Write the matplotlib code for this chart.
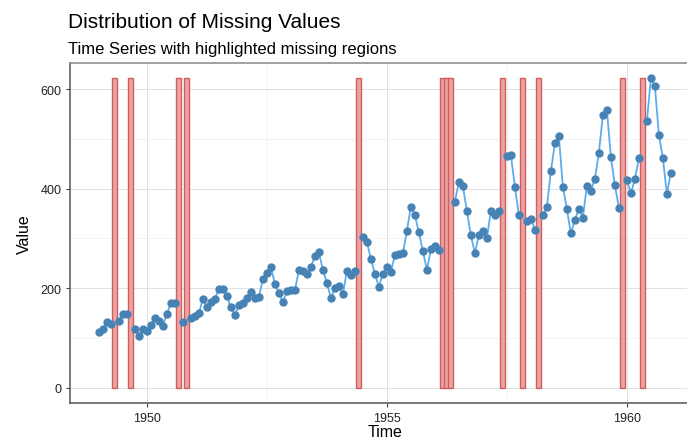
import numpy as np
import matplotlib
matplotlib.use('Agg')
from matplotlib import pyplot as plt
from matplotlib.ticker import MultipleLocator

plt.rcParams['font.family'] = ['Liberation Sans', 'DejaVu Sans']

# monthly air passengers 1949-1960, None = missing
values = [
    112, 118, 132, 129, None, 135, 148, 148, None, 119, 104, 118,
    115, 126, 141, 135, 125, 149, 170, 170, None, 133, None, 140,
    145, 150, 178, 163, 172, 178, 199, 199, 184, 162, 146, 166,
    171, 180, 193, 181, 183, 218, 230, 242, 209, 191, 172, 194,
    196, 196, 236, 235, 229, 243, 264, 272, 237, 211, 180, 201,
    204, 188, 235, 227, 234, None, 302, 293, 259, 229, 203, 229,
    242, 233, 267, 269, 270, 315, 364, 347, 312, 274, 237, 278,
    284, 277, None, None, None, 374, 413, 405, 355, 306, 271, 306,
    315, 301, 356, 348, 355, None, 465, 467, 404, 347, None, 336,
    340, 318, None, 348, 363, 435, 491, 505, 404, 359, 310, 337,
    360, 342, 406, 396, 420, 472, 548, 559, 463, 407, 362, None,
    417, 391, 419, 461, None, 535, 622, 606, 508, 461, 390, 432,
]
start_year = 1949

y = np.array([np.nan if v is None else v for v in values], dtype=float)
t = start_year + np.arange(len(y)) / 12
missing = np.isnan(y)
bar_height = np.nanmax(y)

fig = plt.figure(figsize=(6.87, 4.39), dpi=100)
ax = fig.add_axes([0.102, 0.079, 0.916, 0.776])

ax.bar(t[missing], bar_height, width=0.1, bottom=0, align='center',
       facecolor='#EBA3A3', edgecolor='#CF5E5E',
       linewidth=1.0, zorder=2)
ax.plot(t, y, color='#5CACEE', linewidth=1.3, zorder=3)
ax.plot(t, y, 'o', color='#4682B4', markersize=5, zorder=4)

ax.set_xlim(1948.4, 1961.51)
ax.set_ylim(-31.1, 653.1)
ax.xaxis.set_major_locator(MultipleLocator(5))
ax.xaxis.set_minor_locator(MultipleLocator(2.5))
ax.yaxis.set_major_locator(MultipleLocator(200))
ax.yaxis.set_minor_locator(MultipleLocator(100))

ax.grid(which='major', color='#dcdcdc', linewidth=0.6, zorder=0)
ax.grid(which='minor', color='#eeeeee', linewidth=0.5, zorder=0)
ax.set_axisbelow(True)
for s in ax.spines.values():
    s.set_color('#555555')
    s.set_linewidth(1.1)
ax.spines['top'].set_color('#888888')
ax.tick_params(which='major', length=3, color='#444444', labelsize=9,
               labelcolor='#222222', pad=3)
ax.tick_params(which='minor', length=0)

ax.set_xlabel('Time', fontsize=11.5, labelpad=0)
ax.set_ylabel('Value', fontsize=11.5, labelpad=6)

fig.text(0.099, 0.936, 'Distribution of Missing Values', fontsize=15,
         ha='left', va='baseline')
fig.text(0.099, 0.877, 'Time Series with highlighted missing regions',
         fontsize=12, ha='left', va='baseline')

fig.savefig('out.png', dpi=100)
